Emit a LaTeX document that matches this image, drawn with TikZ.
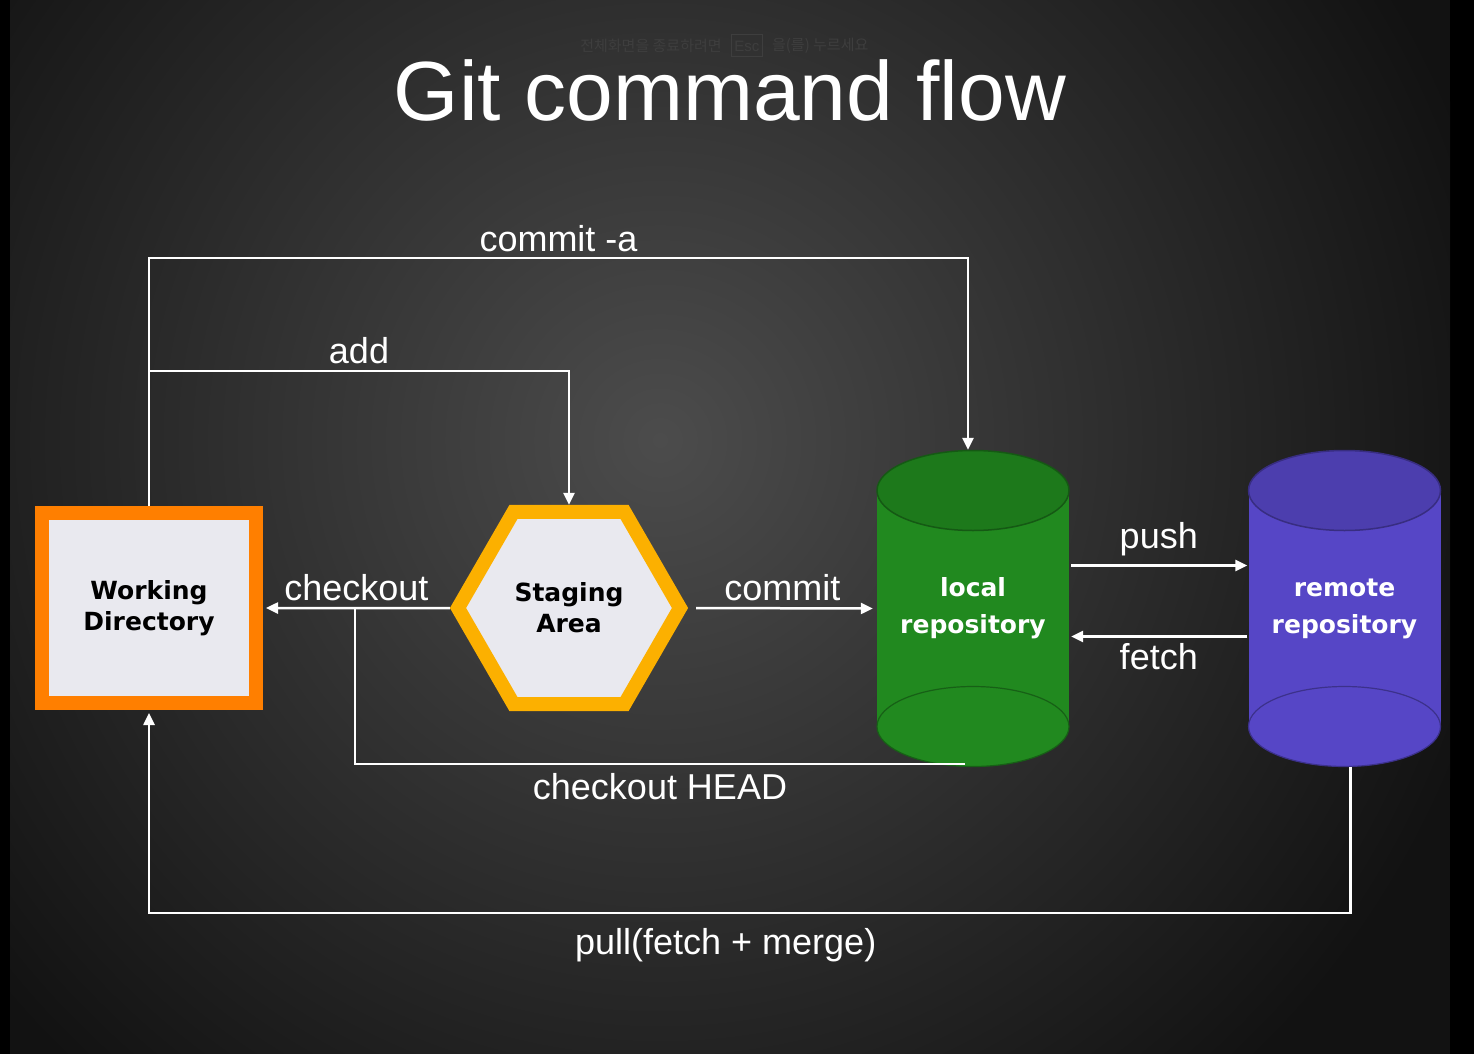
\documentclass[tikz,border=0pt]{standalone}
\usepackage{fontspec}
\setmainfont{Liberation Sans}
\newfontfamily\boxfont{DejaVu Sans}
\newfontfamily\cjk{Noto Sans CJK KR}
\usetikzlibrary{shapes.geometric,arrows.meta,positioning}

\definecolor{slidedark}{HTML}{121212}
\definecolor{slidelight}{HTML}{4C4C4C}
\definecolor{wdorange}{HTML}{FF7F00}
\definecolor{stageyellow}{HTML}{FCB000}
\definecolor{boxgray}{HTML}{E9E9EF}
\definecolor{localgreen}{HTML}{21891F}
\definecolor{remotepurple}{HTML}{5646C6}
\definecolor{hintgray}{HTML}{3E3E3E}

\tikzset{
  flow/.style={draw=white, line width=2.5pt, -{Triangle[length=12pt, width=11pt]}},
  plainflow/.style={draw=white, line width=2.5pt},
  cmd/.style={text=white, inner sep=6pt, font=\fontsize{36}{42}\selectfont},
  wdbox/.style={rectangle, draw=wdorange, line width=14pt, fill=boxgray, minimum width=214pt, minimum height=190pt, inner sep=0pt, align=center, font=\boxfont\bfseries\fontsize{25}{31}\selectfont},
  stagehex/.style={regular polygon, regular polygon sides=6, draw=stageyellow, line width=14pt, fill=boxgray, minimum size=222pt, inner sep=0pt, align=center, font=\boxfont\bfseries\fontsize{25}{31}\selectfont},
  repo/.style={rectangle, minimum width=192pt, minimum height=317pt, inner sep=0pt, text=white, align=center, font=\boxfont\bfseries\fontsize{25}{37}\selectfont},
  hint/.style={text=hintgray, inner sep=0pt, font=\cjk\fontsize{15}{18}\selectfont}
}

% repository drawn as a cylinder, node on top of it
\newcommand{\gitrepo}[4]{
  \begin{scope}[shift={(#1)}]
    \fill [#3] (-96,-118) rectangle (96,118);
    \fill [#3] (0,118) ellipse [x radius=96, y radius=40];
    \draw [#3!70!black, line width=1.2pt] (0,118) ellipse [x radius=96, y radius=40];
    \fill [#3!88!black] (0,-118) ellipse [x radius=96, y radius=40];
    \draw [#3!65!black, line width=1.5pt] (0,-118) ellipse [x radius=96, y radius=40];
  \end{scope}
  \node at (#1) (#2) [repo] {#4};
}

\begin{document}
\begin{tikzpicture}[x=1pt, y=-1pt]
\useasboundingbox (0,0) rectangle (1474,1054);
\fill [black] (0,0) rectangle (1474,1054);
\begin{scope}
  \clip (10,0) rectangle (1450,1054);
  \fill [slidedark] (10,0) rectangle (1450,1054);
  \shade [inner color=slidelight, outer color=slidedark] (660,440) circle (860);
\end{scope}

% title and screen hint
\node (title) at (730,121) [anchor=base, text=white, inner sep=0pt, text height=52pt, font=\fontsize{84}{90}\selectfont] {Git command flow};
\node (hint) at (651,46) [hint] {전체화면을 종료하려면};
\node (esc) [right=9pt of hint, draw=hintgray, line width=1pt, text=hintgray, minimum height=22pt, inner sep=3pt, font=\fontsize{15}{18}\selectfont] {Esc};
\node (hint2) [hint, right=9pt of esc] {을(를) 누르세요};

% areas
\node at (149,608) (wd) [wdbox] {Working\\Directory};
\node at (569,608) (stage) [stagehex] {Staging\\Area};
\gitrepo {973,608.5} {lrepo} {localgreen} {local\\repository};
\gitrepo {1344.5,608.5} {rrepo} {remotepurple} {remote\\repository};

% commands
\draw [flow] (wd.north) -- ++(0,-248) -| node [pos=0.25, above, cmd, inner sep=5pt] {commit -a} ([xshift=-5pt]lrepo.north);
\path (wd.north) ++(0,-135) coordinate (addfork);
\draw [flow] (addfork) -| node [pos=0.25, above, cmd] {add} (stage.north);
\draw [flow, shorten >=3pt] (stage.west) -- node [above, cmd] {checkout} (wd.east);
\path (wd.east) ++(92,0) coordinate (headfork);
\draw [plainflow] ([xshift=-8pt, yshift=3pt]lrepo.south) -| node [pos=0.25, below, cmd, inner sep=8pt] {checkout HEAD} (headfork);
\draw [flow, shorten <=8pt, shorten >=4pt] (stage.east) -- node [above, cmd] {commit} (lrepo.west);
\draw [flow, shorten <=2pt, shorten >=1pt] ([yshift=43pt]lrepo.east) -- node [above, cmd, inner sep=8pt] {push} ([yshift=43pt]rrepo.west);
\draw [flow, shorten <=1pt, shorten >=2pt] ([yshift=-28pt]rrepo.west) -- node [below, cmd] {fetch} ([yshift=-28pt]lrepo.east);
\draw [flow, shorten >=3pt] ([xshift=6pt]rrepo.south) -- ++(0,146) -| node [pos=0.26, below, cmd, inner sep=14pt] {pull(fetch + merge)} (wd.south);
\end{tikzpicture}
\end{document}
